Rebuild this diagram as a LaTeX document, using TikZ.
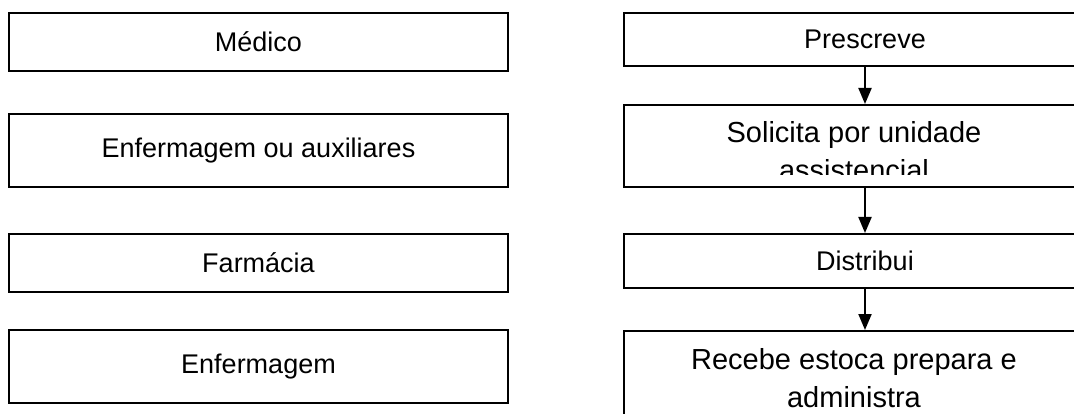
\documentclass[tikz,border=0pt]{standalone}
\usepackage{fontspec}
\setmainfont{Liberation Sans}
\usetikzlibrary{arrows.meta}
\tikzset{
  ebox/.style={draw=black,line width=2pt,align=center,inner sep=0pt,font=\fontsize{27}{38}\selectfont},
  lbox/.style={ebox,minimum width=499pt},
  rbox/.style={ebox,minimum width=482pt},
  txt/.style={align=center,inner sep=0pt,anchor=north,font=\fontsize{29}{38}\selectfont},
  flow/.style={-{Triangle[length=16pt,width=13pt]},line width=2pt}
}

\begin{document}
\begin{tikzpicture}[x=1pt,y=-1pt]
  \clip (0,0) rectangle (1074,414);
  % who
  \node[lbox,minimum height=58pt] (med) at (258.5,42) {Médico};
  \node[lbox,minimum height=73pt] (enfaux) at (258.5,150.5) {Enfermagem ou auxiliares};
  \node[lbox,minimum height=58pt] (farm) at (258.5,263) {Farmácia};
  \node[lbox,minimum height=73pt] (enf) at (258.5,366.5) {Enfermagem};
  % what
  \node[rbox,minimum height=53pt] (presc) at (865,39.5) {Prescreve};
  \node[rbox,minimum height=82pt] (solic) at (865,146) {};
  \begin{scope}
    \clip (626,107) rectangle (1106,175);
    \node[txt] (solictxt) at (854,121) {Solicita por unidade\\ assistencial};
  \end{scope}
  \node[rbox,minimum height=54pt] (distr) at (865,261) {Distribui};
  \node[rbox,minimum height=109pt] (receb) at (865,385.5) {};
  \node[txt] (recebtxt) at (854,348) {Recebe estoca prepara e\\ administra};
  \draw[flow] (presc) -- (solic);
  \draw[flow] (solic) -- (distr);
  \draw[flow] (distr) -- (receb);
\end{tikzpicture}
\end{document}
